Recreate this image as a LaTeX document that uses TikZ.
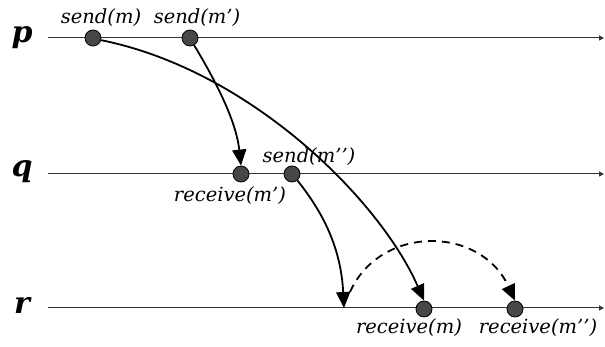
\documentclass[tikz,border=0pt]{standalone}
\usepackage{fontspec}
\setmainfont{DejaVu Serif}
\usetikzlibrary{arrows.meta}
\begin{document}
\begin{tikzpicture}[x=1pt,y=-1pt,
  timeline/.style={draw=black!80, line width=1pt, -{Triangle[length=5pt,width=5pt]}},
  evdot/.style={circle, draw=black, line width=0.8pt, fill=black!72, minimum size=16pt, inner sep=0pt},
  msg/.style={line width=1.8pt, -{Triangle[length=16pt,width=14pt]}},
  dmsg/.style={msg, dash pattern=on 8pt off 6pt},
  evlabel/.style={font=\fontsize{19.5}{22}\selectfont\itshape, inner sep=0pt},
  proclabel/.style={font=\fontsize{30}{34}\selectfont\bfseries\itshape, inner sep=0pt}]
\useasboundingbox (0,0) rectangle (605,347);
% process lines
\coordinate (pL) at (48,38);  \coordinate (pR) at (604,38);
\coordinate (qL) at (48,174); \coordinate (qR) at (604,174);
\coordinate (rL) at (48,308); \coordinate (rR) at (604,308);
\draw[timeline] (pL) -- (pR);
\draw[timeline] (qL) -- (qR);
\draw[timeline] (rL) -- (rR);
\node[proclabel] (p) at (22,38) {p};
\node[proclabel] (q) at (22,172) {q};
\node[proclabel] (r) at (22,306) {r};
% events
\node[evdot] (sm)  at (93,38) {};
\node[evdot] (smp) at (190,38) {};
\node[evdot] (rmp) at (241,174) {};
\node[evdot] (smpp) at (292,174) {};
\node[evdot] (rm)  at (424,309) {};
\node[evdot] (rmpp) at (515,309) {};
\coordinate (rx) at (344,308);
\coordinate (dstart) at (350,292);
% labels
\node[evlabel] (lsm) at (101,18) {send(m)};
\node[evlabel] (lsmp) at (197,18) {send(m’)};
\node[evlabel] (lsmpp) at (309,157) {send(m’’)};
\node[evlabel] (lrmp) at (230,196) {receive(m’)};
\node[evlabel] (lrm) at (409,328) {receive(m)};
\node[evlabel] (lrmpp) at (538,328) {receive(m’’)};
% messages
\draw[msg] (sm.-15) .. controls (250,70) and (380,200) .. (rm.north);
\draw[msg] (smp.-60) .. controls (215,80) and (236,120) .. (rmp.north);
\draw[msg] (smpp.-50) .. controls (325,215) and (341,250) .. (rx);
\draw[dmsg] (dstart) .. controls (380,225) and (480,225) .. (rmpp.north);
\end{tikzpicture}
\end{document}
